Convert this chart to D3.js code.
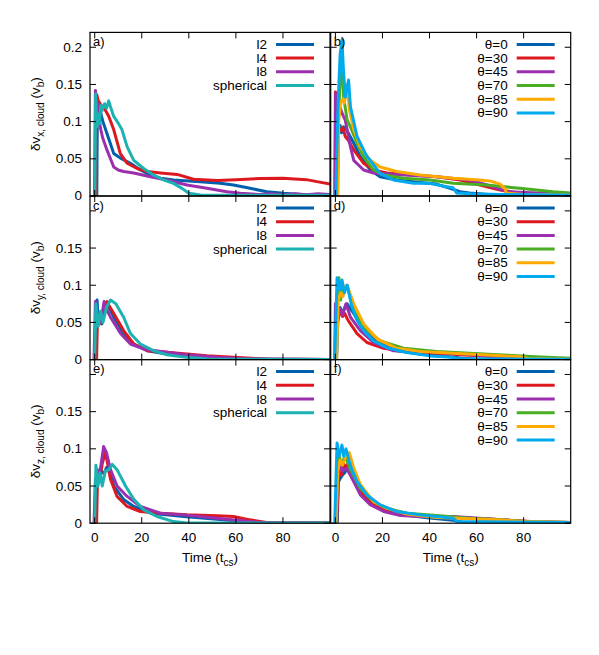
<!DOCTYPE html>
<html>
<head>
<meta charset="utf-8">
<script src="https://cdn.jsdelivr.net/npm/d3@7"></script>
<style>
  body { margin: 0; background: #fff; }
  svg text { font-family: "Liberation Sans", Arial, sans-serif; fill: #000; }
</style>
</head>
<body>
<svg id="chart" width="599" height="655"></svg>
<script>
// ------- data: [time (t_cs), dv (v_b)] -------
const namesL = ["l2", "l4", "l8", "spherical"];
const namesT = ["θ=0", "θ=30", "θ=45", "θ=70", "θ=85", "θ=90"];
const colorsL = ["#0060ad", "#dd181f", "#9b2fae", "#1cb2b2"];
const colorsT = ["#0060ad", "#dd181f", "#9b2fae", "#4aae24", "#ffaa00", "#00aaee"];
const yTicks = [0, 0.05, 0.1, 0.15, 0.2];
const xTicks = [0, 20, 40, 60, 80];

// panel a) dv_x, aspect ratio
const aL2 = [[-0.2,0],[0.9,0],[1.1,0.118],[1.6,0.105],[2.2,0.122],[2.8,0.108],[3.5,0.1],[5.2,0.084],[6.5,0.072],[8.1,0.057],[10.9,0.051],[15.2,0.044],[19.4,0.035],[23.7,0.0283],[28,0.024],[33.5,0.0215],[44.8,0.0192],[53.3,0.017],[59,0.0148],[66,0.0103],[73.2,0.0058],[80.3,0.0036],[86,0.0025],[92,0.0015],[100,0.001]];
const aL4 = [[-0.2,0],[0.7,0],[0.9,0.136],[1.5,0.128],[2.2,0.125],[3,0.118],[3.8,0.122],[4.6,0.115],[6,0.107],[8.1,0.089],[10.9,0.057],[13.8,0.044],[18,0.037],[22.3,0.033],[28,0.031],[35,0.029],[42,0.0225],[52,0.021],[60,0.022],[70,0.0235],[80,0.0238],[90,0.022],[95,0.019],[100,0.016]];
const aL8 = [[-0.5,0],[-0.1,0],[0.3,0.142],[0.8,0.11],[1.4,0.125],[2.4,0.092],[3.4,0.078],[5.2,0.062],[8.1,0.039],[10,0.035],[12.3,0.033],[16.6,0.031],[23.7,0.026],[30.7,0.0215],[39.2,0.0148],[47.7,0.0103],[56.2,0.0058],[61.9,0.0036],[70,0.002],[75,0.003],[80,0.0015],[85,0.003],[90,0.0018],[95,0.003],[100,0.002]];
const aSph = [[-0.5,0],[0.1,0],[0.4,0.137],[0.9,0.093],[1.5,0.11],[2,0.097],[2.6,0.122],[3.2,0.115],[4.2,0.124],[5,0.118],[5.95,0.128],[6.7,0.12],[8.1,0.107],[10.2,0.097],[11.6,0.089],[13.8,0.066],[16.6,0.048],[20.8,0.037],[25.1,0.028],[29.4,0.0215],[33.5,0.017],[37.1,0.0103],[40,0.0036],[45,0.0015],[60,0.001],[100,0.001]];

// panel b) dv_x, angle
const bT0 = [[0,0],[0.9,0],[1.2,0.088],[2,0.095],[2.6,0.085],[3.5,0.093],[4.5,0.09],[5.6,0.084],[7.8,0.071],[10.6,0.053],[14.8,0.035],[19,0.026],[26.1,0.0215],[36,0.018],[43,0.016],[48.7,0.0103],[53,0.0058],[57,0.004],[65,0.002],[100,0.001]];
const bT30 = [[-0.5,0],[-0.2,0],[0,0.14],[0.7,0.095],[1.5,0.09],[2.5,0.088],[3.2,0.092],[4.2,0.08],[5.5,0.075],[7.8,0.062],[12,0.044],[16.2,0.035],[21.9,0.031],[33.2,0.0283],[43,0.026],[53,0.0215],[61.4,0.0148],[70,0.0081],[78,0.004],[85,0.002],[100,0.0015]];
const bT45 = [[-0.5,0],[-0.2,0],[0.1,0.138],[0.8,0.105],[2.1,0.118],[3,0.11],[4.2,0.102],[6.4,0.066],[7.8,0.048],[12,0.035],[16.2,0.031],[29,0.0283],[43,0.026],[57,0.0215],[67,0.0125],[72.7,0.0058],[86,0.004],[100,0.003]];
const bT70 = [[0,0],[0.8,0],[1.2,0.1],[1.8,0.14],[2.4,0.185],[3,0.16],[3.5,0.133],[5,0.102],[6.4,0.093],[9.2,0.071],[12,0.053],[16.2,0.035],[20.5,0.0283],[29,0.0238],[40.3,0.0215],[50.1,0.017],[64.3,0.0148],[78.4,0.0103],[92.5,0.0058],[100,0.004]];
const bT85 = [[0,0],[1,0],[1.4,0.1],[2.2,0.125],[3,0.13],[3.8,0.125],[4.9,0.15],[6,0.115],[7.8,0.089],[10.6,0.066],[14.8,0.048],[19,0.039],[26.1,0.033],[36,0.0283],[50,0.024],[61.4,0.0215],[66,0.02],[70,0.016],[72,0.0103],[72.7,0.004],[80,0.002],[100,0.0015]];
const bT90 = [[-0.5,0],[0.2,0],[0.6,0.06],[1.2,0.13],[2,0.19],[2.8,0.21],[3.4,0.17],[4.2,0.133],[5.6,0.156],[6.4,0.12],[9.2,0.08],[13.4,0.053],[14.8,0.048],[19,0.0305],[24.7,0.0215],[33.2,0.0171],[40,0.017],[47.3,0.0125],[50,0.011],[51.6,0.004],[57,0.003],[70,0.002],[100,0.0015]];

// panel c) dv_y, aspect ratio
const cL2 = [[0.6,0],[1,0.08],[1.5,0.05],[2.2,0.06],[3,0.048],[4,0.066],[5,0.077],[6,0.071],[8.1,0.057],[12.3,0.035],[16.6,0.021],[22.3,0.012],[30.7,0.0075],[45,0.0028],[60,0.0005],[100,0.0003]];
const cL4 = [[0.8,0],[1.2,0.06],[2,0.048],[3,0.065],[4,0.06],[5.3,0.078],[6.2,0.072],[8.1,0.062],[12.3,0.039],[16.6,0.021],[22.3,0.012],[30.7,0.0098],[39.2,0.0075],[47.7,0.0052],[59,0.003],[73,0.0007],[100,0.0003]];
const cL8 = [[-0.3,0],[0.3,0.078],[0.9,0.045],[1.8,0.06],[2.6,0.05],[4,0.078],[5,0.068],[6.7,0.057],[11,0.035],[15.2,0.021],[21,0.014],[30.7,0.0098],[39,0.0065],[52,0.003],[66,0.0008],[100,0.0003]];
const cSph = [[0,0],[0.5,0.075],[1.5,0.045],[2.5,0.065],[3.5,0.05],[5,0.07],[6.7,0.08],[9,0.075],[12.3,0.057],[15.2,0.035],[19.4,0.021],[25,0.012],[30.7,0.0065],[39,0.003],[48,0.0007],[100,0.0003]];

// panel d) dv_y, angle
const dT0 = [[0.5,0],[1,0.05],[2,0.07],[3,0.062],[4,0.07],[5,0.075],[6,0.07],[7.8,0.062],[12,0.039],[17.7,0.023],[26.1,0.0118],[36,0.0075],[47.3,0.0042],[53,0.002],[60,0.0005],[100,0.0003]];
const dT30 = [[0,0],[0.5,0.07],[1.2,0.058],[2,0.065],[3,0.058],[4,0.062],[5,0.055],[6.4,0.048],[9.2,0.035],[13.4,0.023],[20.5,0.0152],[30.4,0.0109],[43,0.0085],[57,0.006],[71,0.0035],[85,0.001],[100,0.0005]];
const dT45 = [[-0.3,0],[0,0.075],[1,0.058],[2,0.068],[3,0.06],[4.5,0.075],[6.4,0.057],[10.6,0.039],[16.2,0.023],[24.7,0.0118],[36,0.0109],[50,0.0085],[64.3,0.005],[78,0.003],[90,0.001],[100,0.001]];
const dT70 = [[0,0],[0.8,0.09],[1.5,0.11],[2.2,0.08],[3,0.1],[4,0.095],[5,0.1],[7.8,0.066],[12,0.044],[19,0.025],[29,0.0152],[43,0.0109],[57,0.0085],[71,0.0062],[85,0.004],[100,0.0017]];
const dT85 = [[0.5,0],[1.2,0.08],[2.2,0.09],[3.2,0.085],[4.5,0.1],[5.5,0.095],[7.8,0.075],[12,0.048],[17.7,0.028],[26.1,0.0152],[36,0.0109],[50,0.0085],[64.3,0.0062],[78.4,0.004],[83,0.001],[100,0.0005]];
const dT90 = [[-0.3,0],[0.7,0.11],[1.8,0.094],[2.8,0.107],[3.8,0.09],[5,0.1],[7,0.071],[9.2,0.053],[12,0.039],[16.2,0.025],[21.9,0.016],[30.4,0.0095],[40.3,0.005],[50,0.003],[52,0.001],[100,0.0005]];

// panel e) dv_z, aspect ratio
const eL2 = [[0.3,0],[1,0.072],[2,0.062],[3,0.07],[4,0.066],[5,0.075],[6.7,0.066],[8.1,0.05],[12.3,0.032],[16.6,0.0225],[23.7,0.0135],[37.8,0.009],[52,0.0054],[59,0.0032],[67.5,0.0005],[100,0.0003]];
const eL4 = [[0.8,0],[1.2,0.06],[2.2,0.06],[3.2,0.08],[4.5,0.095],[5.5,0.08],[6.7,0.059],[9.5,0.036],[13.8,0.0225],[19.4,0.0157],[27.9,0.0135],[39.2,0.0112],[52,0.0099],[59,0.009],[66,0.0045],[73,0.0009],[100,0.0003]];
const eL8 = [[-0.3,0],[0.3,0.06],[1.5,0.065],[2.5,0.075],[3.8,0.103],[5,0.095],[6.7,0.072],[9.5,0.05],[13.8,0.036],[19.4,0.0225],[27.9,0.0135],[37.8,0.0112],[52,0.0067],[66,0.0022],[73,0.0003],[100,0.0003]];
const eSph = [[0,0],[0.5,0.078],[1.4,0.05],[2.3,0.068],[3.2,0.05],[4.5,0.07],[6,0.072],[7.5,0.079],[9.5,0.072],[13.1,0.05],[16.6,0.032],[20.8,0.018],[26.5,0.009],[33.5,0.0022],[39.2,0.0003],[100,0.0003]];

// panel f) dv_z, angle
const fT0 = [[0.8,0],[1.2,0.055],[2,0.06],[3,0.065],[4,0.068],[5,0.074],[7,0.065],[10.6,0.043],[14.8,0.027],[20.5,0.017],[29,0.0112],[39,0.0072],[50,0.004],[54,0.0013],[100,0.0005]];
const fT30 = [[0.5,0],[1.5,0.07],[2.5,0.065],[3.5,0.08],[4.2,0.072],[5,0.079],[7,0.061],[10.6,0.043],[14.8,0.029],[20.5,0.018],[29,0.0135],[43,0.009],[57,0.0067],[71,0.0045],[85,0.002],[100,0.001]];
const fT45 = [[0.3,0],[1,0.06],[2,0.083],[3,0.07],[4.7,0.074],[7,0.061],[10.6,0.038],[14.8,0.025],[20.5,0.0157],[27.6,0.0103],[36,0.009],[50,0.009],[64.3,0.006],[78,0.003],[85,0.0015],[100,0.001]];
const fT70 = [[0,0],[0.8,0.07],[1.5,0.092],[2.5,0.08],[3.9,0.088],[5,0.084],[6.4,0.072],[10.6,0.047],[16.2,0.029],[21.9,0.02],[30.4,0.0135],[43,0.0103],[57,0.0067],[71,0.0045],[81,0.0022],[100,0.001]];
const fT85 = [[0.3,0],[1,0.07],[2,0.085],[3,0.078],[4.5,0.09],[5.9,0.095],[7.8,0.074],[10.6,0.052],[16.2,0.029],[21.9,0.02],[30.4,0.0122],[43,0.0078],[57,0.006],[71,0.0042],[81,0.0022],[100,0.001]];
const fT90 = [[-0.3,0],[0.7,0.108],[1.5,0.09],[2.8,0.105],[3.5,0.09],[4.5,0.1],[5.9,0.083],[7,0.072],[9.2,0.056],[13.4,0.038],[19,0.0247],[26.1,0.0157],[36,0.0112],[50,0.0067],[51.6,0.0022],[100,0.001]];

// ------- layout -------
const panelW = 240, panelH = 163.6;
const colX = [90, 330.7];
const rowY = [32.4, 196, 359.6];
const comps = ["x", "y", "z"];

const panels = [
  { tag: "a)", row: 0, col: 0, series: [aL2, aL4, aL8, aSph], names: namesL, colors: colorsL },
  { tag: "b)", row: 0, col: 1, series: [bT0, bT30, bT45, bT70, bT85, bT90], names: namesT, colors: colorsT },
  { tag: "c)", row: 1, col: 0, series: [cL2, cL4, cL8, cSph], names: namesL, colors: colorsL },
  { tag: "d)", row: 1, col: 1, series: [dT0, dT30, dT45, dT70, dT85, dT90], names: namesT, colors: colorsT },
  { tag: "e)", row: 2, col: 0, series: [eL2, eL4, eL8, eSph], names: namesL, colors: colorsL },
  { tag: "f)", row: 2, col: 1, series: [fT0, fT30, fT45, fT70, fT85, fT90], names: namesT, colors: colorsT },
];

const svg = d3.select("#chart");
svg.append("rect").attr("width", 599).attr("height", 655).attr("fill", "#fff");

const x = d3.scaleLinear().domain([-2, 100]).range([0, panelW]);
const y = d3.scaleLinear().domain([0, 0.22]).range([panelH, 0]);
const line = d3.line().x(d => x(d[0])).y(d => y(d[1]));
const tickLen = 6;

panels.forEach(function (p, i) {
  const g = svg.append("g")
    .attr("transform", "translate(" + colX[p.col] + "," + rowY[p.row] + ")");

  g.append("clipPath").attr("id", "clip" + i)
    .append("rect").attr("width", panelW).attr("height", panelH);

  // curves
  const lines = g.append("g").attr("clip-path", "url(#clip" + i + ")");
  p.series.forEach(function (s, k) {
    lines.append("path")
      .datum(s)
      .attr("d", line)
      .attr("fill", "none")
      .attr("stroke", p.colors[k])
      .attr("stroke-width", 3)
      .attr("stroke-linejoin", "round");
  });

  // mirrored inward ticks
  const ticks = g.append("g").attr("stroke", "#000").attr("stroke-width", 1);
  xTicks.forEach(function (t) {
    ticks.append("line").attr("x1", x(t)).attr("x2", x(t)).attr("y1", panelH).attr("y2", panelH - tickLen);
    ticks.append("line").attr("x1", x(t)).attr("x2", x(t)).attr("y1", 0).attr("y2", tickLen);
  });
  yTicks.forEach(function (v) {
    ticks.append("line").attr("x1", 0).attr("x2", tickLen).attr("y1", y(v)).attr("y2", y(v));
    ticks.append("line").attr("x1", panelW).attr("x2", panelW - tickLen).attr("y1", y(v)).attr("y2", y(v));
  });

  g.append("rect")
    .attr("width", panelW).attr("height", panelH)
    .attr("fill", "none").attr("stroke", "#000").attr("stroke-width", 1.2);

  // panel tag
  g.append("text").attr("x", 3).attr("y", 13.5).attr("font-size", 13).text(p.tag);

  // legend
  const leg = g.append("g").attr("transform", "translate(0,12)");
  p.names.forEach(function (n, k) {
    const yy = k * 13.7;
    leg.append("text")
      .attr("x", 177).attr("y", yy + 4.6)
      .attr("text-anchor", "end").attr("font-size", 13.5)
      .text(n);
    leg.append("line")
      .attr("x1", 186).attr("x2", 224).attr("y1", yy).attr("y2", yy)
      .attr("stroke", p.colors[k]).attr("stroke-width", 3);
  });

  // y tick labels on left column
  if (p.col === 0) {
    yTicks.forEach(function (v) {
      if (p.row > 0 && v === 0.2) return;
      g.append("text")
        .attr("x", -8).attr("y", y(v) + 4.5)
        .attr("text-anchor", "end").attr("font-size", 13.5)
        .text(d3.format("")(v));
    });
    const lab = g.append("text")
      .attr("transform", "translate(-50," + (panelH / 2) + ")rotate(-90)")
      .attr("text-anchor", "middle").attr("font-size", 13.5);
    lab.append("tspan").text("δv");
    lab.append("tspan").attr("font-size", 10).attr("dy", 4).text(comps[p.row] + ", cloud");
    lab.append("tspan").attr("dy", -4).text(" (v");
    lab.append("tspan").attr("font-size", 10).attr("dy", 4).text("b");
    lab.append("tspan").attr("dy", -4).text(")");
  }

  // x tick labels and title on bottom row
  if (p.row === 2) {
    xTicks.forEach(function (t) {
      g.append("text")
        .attr("x", x(t)).attr("y", panelH + 19)
        .attr("text-anchor", "middle").attr("font-size", 13.5)
        .text(t);
    });
    const xl = g.append("text")
      .attr("x", panelW / 2).attr("y", panelH + 38.5)
      .attr("text-anchor", "middle").attr("font-size", 13.5);
    xl.append("tspan").text("Time (t");
    xl.append("tspan").attr("font-size", 10).attr("dy", 4).text("cs");
    xl.append("tspan").attr("dy", -4).text(")");
  }
});
</script>
</body>
</html>
